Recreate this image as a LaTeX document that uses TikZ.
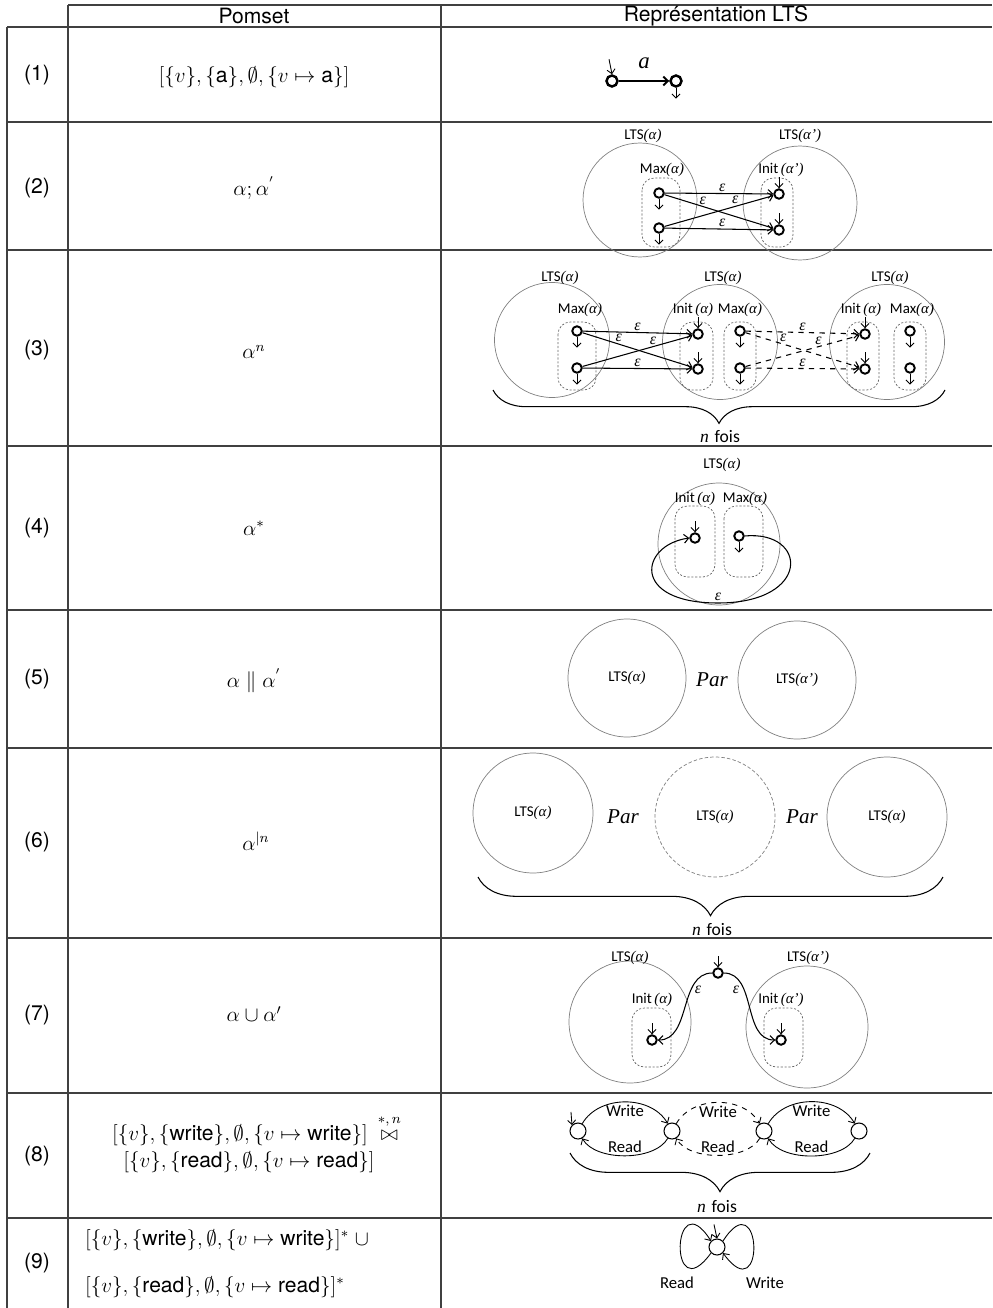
\documentclass[tikz,border=0pt]{standalone}
\usepackage{amsmath, amssymb}
\usepackage{fontspec}
\setsansfont{TeX Gyre Heros}
\newfontfamily\calib{Carlito}
\newfontfamily\tms{Liberation Serif}
\usepackage{tikz}
\usetikzlibrary{arrows.meta, decorations.pathreplacing}

\newcommand{\ltsof}[1]{{\calib LTS}{\tms\itshape(#1)}}
\newcommand{\maxof}[1]{{\calib Max}{\tms\itshape(#1)}}
\newcommand{\initof}[1]{{\calib Init\,}{\tms\itshape(#1)}}

\begin{document}
\begin{tikzpicture}[x=0.02cm, y=-0.02cm,
    tblrule/.style={line width=0.6pt, black!75},
    celltxt/.style={font=\fontsize{12}{14.5}\selectfont, inner sep=1pt},
    rownum/.style={font=\sffamily\fontsize{12}{14.5}\selectfont},
    ltsc/.style={circle, draw=black!50, line width=0.4pt, minimum size=2.34cm, inner sep=0pt, font=\fontsize{8.5}{10}\selectfont},
    zonebox/.style={draw=black!60, line width=0.4pt, dash pattern=on 1.2pt off 1pt, rounded corners=7pt},
    stnode/.style={circle, draw, line width=1.1pt, minimum size=0.19cm, inner sep=0pt},
    rwnode/.style={circle, draw, line width=0.6pt, minimum size=0.32cm, inner sep=0pt},
    smalllbl/.style={font=\fontsize{8.5}{10}\selectfont, inner sep=0pt},
    rwlbl/.style={font=\calib\fontsize{9.5}{11}\selectfont, inner sep=1.5pt},
    epslbl/.style={font=\tms\itshape\fontsize{9}{10}\selectfont, inner sep=1pt},
    edgearr/.style={-{Straight Barb[length=2.6pt,width=5pt]}, line width=0.6pt},
    stub/.style={-{Straight Barb[length=2.4pt,width=4.6pt]}, line width=0.5pt},
    bracedn/.style={decorate, decoration={brace, amplitude=#1}, line width=0.6pt},
    foislbl/.style={font=\fontsize{10}{12}\selectfont, inner sep=0pt},
    parlbl/.style={font=\tms\itshape\fontsize{12}{14}\selectfont}]

    \useasboundingbox (0,0) rectangle (992,1308);

    \draw[tblrule] (68,5) -- (992,5);
    \draw[tblrule] (7,27) -- (992,27);
    \foreach \y in {122,250,446,610,748,938,1093,1218}
        \draw[tblrule] (7,\y) -- (992,\y);
    \draw[tblrule] (7,27) -- (7,1308);
    \draw[tblrule] (68,5) -- (68,1308);
    \draw[tblrule] (441,5) -- (441,1308);

    \node[rownum] (hpom) at (254,16) {Pomset};
    \node[rownum] (hlts) at (716,16) {Représentation LTS};
    \foreach \n/\y in {1/75,2/188,3/350,4/528,5/679,6/842,7/1015,8/1156,9/1263}
        \node[rownum] (lab\n) at (37,\y) {(\n)};

    \node[celltxt] (p1) at (254,77) {$[\{v\},\{\textsf{a}\},\emptyset,\{v\mapsto\textsf{a}\}]$};
    \node[celltxt] (p2) at (254,188) {$\alpha;\alpha^{'}$};
    \node[celltxt] (p3) at (254,352) {$\alpha^{n}$};
    \node[celltxt] (p4) at (254,528) {$\alpha^{*}$};
    \node[celltxt] (p5) at (254,681) {$\alpha\parallel\alpha^{'}$};
    \node[celltxt] (p6) at (256,841) {$\alpha^{|n}$};
    \node[celltxt] (p7) at (254,1014) {$\alpha\cup\alpha'$};
    \node[celltxt, inner sep=0pt] (p8a) at (240,1135) {$[\{v\},\{\textsf{write}\},\emptyset,\{v\mapsto\textsf{write}\}]$};
    \node[celltxt, inner sep=0pt, anchor=base west] (p8op) at ([xshift=7pt]p8a.base east) {$\bowtie$};
    \node[inner sep=0pt, anchor=south, font=\fontsize{8.5}{9}\selectfont] (p8sup) at ([yshift=2pt]p8op.north) {$*,n$};
    \node[celltxt, inner sep=0pt] (p8b) at (249,1162) {$[\{v\},\{\textsf{read}\},\emptyset,\{v\mapsto\textsf{read}\}]$};
    \node[celltxt, anchor=west] (p9a) at (83,1240) {$[\{v\},\{\textsf{write}\},\emptyset,\{v\mapsto\textsf{write}\}]^{*}\;\cup$};
    \node[celltxt, anchor=west] (p9b) at (83,1287) {$[\{v\},\{\textsf{read}\},\emptyset,\{v\mapsto\textsf{read}\}]^{*}$};

    \node[stnode, line width=1.4pt, minimum size=0.22cm] (r1s) at (612,81) {};
    \node[stnode, line width=1.4pt, minimum size=0.22cm] (r1t) at (676,81) {};
    \node[font=\tms\itshape\fontsize{13}{15}\selectfont] (r1a) at (644,63) {a};
    \draw[edgearr, line width=1.1pt] (r1s) -- (r1t);
    \draw[stub] (r1s.north) ++(-3,-15) -- (r1s.north);

    \node[ltsc, minimum size=2.28cm] (r2A) at (640,200) {};
    \node[ltsc, minimum size=2.28cm] (r2B) at (800,203) {};
    \node[smalllbl] (r2la) at (643,136) {\ltsof{α}};
    \node[smalllbl] (r2lb) at (800,136) {\ltsof{α’}};
    \draw[zonebox] (642,178) rectangle (680,247);
    \draw[zonebox] (761,178) rectangle (793,247);
    \node[smalllbl] (r2mx) at (662,170) {\maxof{α}};
    \node[smalllbl] (r2in) at (781,170) {\initof{α’}};
    \node[stnode] (r2m1) at (659,193) {};
    \node[stnode] (r2m2) at (659,228) {};
    \node[stnode] (r2i1) at (779,194) {};
    \node[stnode] (r2i2) at (779,230) {};
    \draw[edgearr] (r2m1) -- (r2i1) node[epslbl, pos=.53, above] (r2e1) {ε};
    \draw[edgearr] (r2m1) -- (r2i2) node[epslbl, pos=.35, above] (r2e2) {ε};
    \draw[edgearr] (r2m2) -- (r2i1) node[epslbl, pos=.65, above] (r2e3) {ε};
    \draw[edgearr] (r2m2) -- (r2i2) node[epslbl, pos=.53, above] (r2e4) {ε};

    \node[ltsc, minimum size=2.3cm] (r3A) at (552,340) {};
    \node[ltsc, minimum size=2.3cm] (r3B) at (720,342) {};
    \node[ltsc, minimum size=2.3cm] (r3C) at (887,342) {};
    \node[smalllbl] (r3la) at (560,278) {\ltsof{α}};
    \node[smalllbl] (r3lb) at (723,278) {\ltsof{α}};
    \node[smalllbl] (r3lc) at (890,278) {\ltsof{α}};
    \draw[zonebox] (558,322) rectangle (596,390);
    \draw[zonebox] (680,322) rectangle (713,390);
    \draw[zonebox] (724,322) rectangle (756,390);
    \draw[zonebox] (847,322) rectangle (879,390);
    \draw[zonebox] (894,322) rectangle (926,390);
    \node[smalllbl] (r3ma) at (580,310) {\maxof{α}};
    \node[smalllbl] (r3ib) at (693,310) {\initof{α}};
    \node[smalllbl] (r3mb) at (740,310) {\maxof{α}};
    \node[smalllbl] (r3ic) at (861,310) {\initof{α}};
    \node[smalllbl] (r3mc) at (912,310) {\maxof{α}};
    \node[stnode] (r3a1) at (577,331) {};
    \node[stnode] (r3a2) at (577,368) {};
    \node[stnode] (r3b1) at (698,334) {};
    \node[stnode] (r3b2) at (698,369) {};
    \node[stnode] (r3c1) at (740,331) {};
    \node[stnode] (r3c2) at (740,368) {};
    \node[stnode] (r3d1) at (865,334) {};
    \node[stnode] (r3d2) at (865,369) {};
    \node[stnode] (r3e1) at (910,331) {};
    \node[stnode] (r3e2) at (910,368) {};
    \draw[edgearr] (r3a1) -- (r3b1) node[epslbl, pos=.5, above] (r3e1l) {ε};
    \draw[edgearr] (r3a1) -- (r3b2) node[epslbl, pos=.33, above] (r3e2l) {ε};
    \draw[edgearr] (r3a2) -- (r3b1) node[epslbl, pos=.64, above] (r3e3l) {ε};
    \draw[edgearr] (r3a2) -- (r3b2) node[epslbl, pos=.5, above] (r3e4l) {ε};
    \draw[edgearr, dashed] (r3c1) -- (r3d1) node[epslbl, pos=.5, above] (r3e5l) {ε};
    \draw[edgearr, dashed] (r3c1) -- (r3d2) node[epslbl, pos=.33, above] (r3e6l) {ε};
    \draw[edgearr, dashed] (r3c2) -- (r3d1) node[epslbl, pos=.64, above] (r3e7l) {ε};
    \draw[edgearr, dashed] (r3c2) -- (r3d2) node[epslbl, pos=.5, above] (r3e8l) {ε};
    \draw[bracedn=19pt] (945,390) -- (493,390);
    \node[foislbl] (r3n) at (720,437) {{\tms\itshape n} {\calib fois}};

    \node[ltsc, minimum size=2.44cm] (r4A) at (719,544) {};
    \node[smalllbl] (r4l) at (722,465) {\ltsof{α}};
    \draw[zonebox] (675,506) rectangle (715,577);
    \draw[zonebox] (724,506) rectangle (763,577);
    \node[smalllbl] (r4in) at (695,499) {\initof{α}};
    \node[smalllbl] (r4mx) at (745,499) {\maxof{α}};
    \node[stnode] (r4i) at (695,538) {};
    \node[stnode] (r4m) at (739,536) {};
    \draw[edgearr] (r4m.east) .. controls (808,530) and (812,603) .. (718,603)
        node[epslbl, above] (r4e) {ε}
        .. controls (630,603) and (640,545) .. (r4i.west);

    \node[ltsc, minimum size=2.36cm] (r5A) at (627,678) {\ltsof{α}};
    \node[parlbl] (r5p) at (712,680) {Par};
    \node[ltsc, minimum size=2.36cm] (r5B) at (797,680) {\ltsof{α’}};

    \node[ltsc, minimum size=2.4cm] (r6A) at (533,813) {\ltsof{α}};
    \node[parlbl] (r6p1) at (623,817) {Par};
    \node[ltsc, minimum size=2.4cm, dash pattern=on 2pt off 1.2pt] (r6B) at (715,817) {\ltsof{α}};
    \node[parlbl] (r6p2) at (802,817) {Par};
    \node[ltsc, minimum size=2.4cm] (r6C) at (887,817) {\ltsof{α}};
    \draw[bracedn=22pt] (943,877) -- (478,877);
    \node[foislbl] (r6n) at (712,930) {{\tms\itshape n} {\calib fois}};

    \node[ltsc, minimum size=2.44cm] (r7A) at (630,1022) {};
    \node[ltsc, minimum size=2.44cm] (r7B) at (807,1027) {};
    \node[smalllbl] (r7la) at (630,958) {\ltsof{α}};
    \node[smalllbl] (r7lb) at (808,958) {\ltsof{α’}};
    \draw[zonebox] (632,1008) rectangle (671,1067);
    \draw[zonebox] (764,1008) rectangle (803,1067);
    \node[smalllbl] (r7ia) at (652,1000) {\initof{α}};
    \node[smalllbl] (r7ib) at (781,1000) {\initof{α’}};
    \node[stnode] (r7t) at (718,973) {};
    \node[stnode] (r7l) at (652,1040) {};
    \node[stnode] (r7r) at (781,1040) {};
    \draw[edgearr] (r7t.west) to[out=180,in=0] (r7l.east);
    \draw[edgearr] (r7t.east) to[out=0,in=180] (r7r.west);
    \node[epslbl] (r7e1) at (698,990) {ε};
    \node[epslbl] (r7e2) at (736,990) {ε};

    \foreach \s in {r2i1,r2i2,r3b1,r3b2,r3d1,r3d2,r4i,r7t,r7l,r7r}
        \draw[stub] (\s.north) ++(0,-11) -- (\s.north);
    \foreach \s in {r1t,r2m1,r2m2,r3a1,r3a2,r3c1,r3c2,r3e1,r3e2,r4m}
        \draw[stub] (\s.south) -- ++(0,11);

    \node[rwnode] (r8s0) at (578,1131) {};
    \node[rwnode] (r8s1) at (672,1131) {};
    \node[rwnode] (r8s2) at (764,1131) {};
    \node[rwnode] (r8s3) at (859,1131) {};
    \draw[stub] (r8s0.north west) ++(-1,-13) -- (r8s0.north west);
    \draw[edgearr, line width=.5pt] (r8s0) to[out=60,in=120] node[rwlbl, below] (r8w1) {Write} (r8s1);
    \draw[edgearr, line width=.5pt] (r8s1) to[out=240,in=300,looseness=.8] node[rwlbl, above] (r8r1) {Read} (r8s0);
    \draw[edgearr, line width=.5pt, dashed] (r8s1) to[out=60,in=120] node[rwlbl, below] (r8w2) {Write} (r8s2);
    \draw[edgearr, line width=.5pt, dashed] (r8s2) to[out=240,in=300,looseness=.8] node[rwlbl, above] (r8r2) {Read} (r8s1);
    \draw[edgearr, line width=.5pt] (r8s2) to[out=60,in=120] node[rwlbl, below] (r8w3) {Write} (r8s3);
    \draw[edgearr, line width=.5pt] (r8s3) to[out=240,in=300,looseness=.8] node[rwlbl, above] (r8r3) {Read} (r8s2);
    \draw[bracedn=22pt] (870,1153) -- (570,1153);
    \node[foislbl] (r8n) at (717,1207) {{\tms\itshape n} {\calib fois}};

    \node[rwnode] (r9q) at (717,1247) {};
    \draw[stub] (r9q.north) ++(-3,-14) -- (r9q.north);
    \draw[edgearr, line width=.5pt] (r9q.south west) .. controls (668,1312) and (672,1180) .. (r9q.north west);
    \draw[edgearr, line width=.5pt] (r9q.north east) .. controls (762,1180) and (766,1312) .. (r9q.south east);
    \node[rwlbl] (r9r) at (677,1283) {Read};
    \node[rwlbl] (r9w) at (765,1283) {Write};
\end{tikzpicture}
\end{document}
